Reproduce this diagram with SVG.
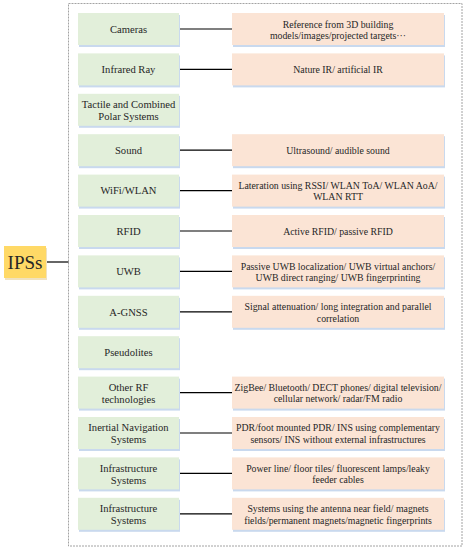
<svg xmlns="http://www.w3.org/2000/svg" width="467" height="550" viewBox="0 0 467 550">
<style>
.g{fill:#E2EFDA}
.o{fill:#FBE4D5}
.sh{fill:#C9D9EE}
.tg{font-family:"Liberation Serif",serif;font-size:10.6px;fill:#262626;text-anchor:middle}
.to{font-family:"Liberation Serif",serif;font-size:9.8px;fill:#262626;text-anchor:middle}
.c{stroke:#000;stroke-width:1.2;fill:none}
</style>
<rect x="0" y="0" width="467" height="550" fill="#fff"/>
<rect x="68.5" y="3.5" width="393.5" height="542.5" fill="none" stroke="#8c8c8c" stroke-width="0.8" stroke-dasharray="2,1"/>
<g id="connectors">
<line class="c" x1="46" y1="262" x2="68.5" y2="262"/>
<line class="c" x1="179" y1="29" x2="232" y2="29"/>
<line class="c" x1="179" y1="69.4" x2="232" y2="69.4"/>
<line class="c" x1="179" y1="150.2" x2="232" y2="150.2"/>
<line class="c" x1="179" y1="190.6" x2="232" y2="190.6"/>
<line class="c" x1="179" y1="231" x2="232" y2="231"/>
<line class="c" x1="179" y1="271.4" x2="232" y2="271.4"/>
<line class="c" x1="179" y1="311.8" x2="232" y2="311.8"/>
<line class="c" x1="179" y1="392.6" x2="232" y2="392.6"/>
<line class="c" x1="179" y1="433" x2="232" y2="433"/>
<line class="c" x1="179" y1="473.4" x2="232" y2="473.4"/>
<line class="c" x1="179" y1="513.8" x2="232" y2="513.8"/>
</g>
<g id="ipss">
<rect x="5" y="248" width="42" height="32" fill="#F0E2C0"/>
<rect x="4" y="246" width="42" height="32" fill="#FFD966"/>
<text x="25" y="269" font-family="Liberation Serif,serif" font-size="19" fill="#262626" text-anchor="middle">IPSs</text>
</g>
<g id="cameras"><rect class="sh" x="79" y="15" width="101" height="32"/><rect class="g" x="78" y="13" width="101" height="32"/><text class="tg" x="128.5" y="32.8">Cameras</text></g>
<g id="cameras-d"><rect class="sh" x="233" y="15" width="212" height="32"/><rect class="o" x="232" y="13" width="212" height="32"/><text class="to" x="338" y="27.5">Reference from 3D building</text><text class="to" x="338" y="39">models/images/projected targets···</text></g>
<g id="infrared"><rect class="sh" x="79" y="55.4" width="101" height="32"/><rect class="g" x="78" y="53.4" width="101" height="32"/><text class="tg" x="128.5" y="73.2">Infrared Ray</text></g>
<g id="infrared-d"><rect class="sh" x="233" y="55.4" width="212" height="32"/><rect class="o" x="232" y="53.4" width="212" height="32"/><text class="to" x="338" y="73">Nature IR/ artificial IR</text></g>
<g id="tactile"><rect class="sh" x="79" y="95.8" width="101" height="32"/><rect class="g" x="78" y="93.8" width="101" height="32"/><text class="tg" x="128.5" y="108">Tactile and Combined</text><text class="tg" x="128.5" y="120">Polar Systems</text></g>
<g id="sound"><rect class="sh" x="79" y="136.2" width="101" height="32"/><rect class="g" x="78" y="134.2" width="101" height="32"/><text class="tg" x="128.5" y="154">Sound</text></g>
<g id="sound-d"><rect class="sh" x="233" y="136.2" width="212" height="32"/><rect class="o" x="232" y="134.2" width="212" height="32"/><text class="to" x="338" y="153.8">Ultrasound/ audible sound</text></g>
<g id="wifi"><rect class="sh" x="79" y="176.6" width="101" height="32"/><rect class="g" x="78" y="174.6" width="101" height="32"/><text class="tg" x="128.5" y="194.4">WiFi/WLAN</text></g>
<g id="wifi-d"><rect class="sh" x="233" y="176.6" width="212" height="32"/><rect class="o" x="232" y="174.6" width="212" height="32"/><text class="to" x="338" y="188.8">Lateration using RSSI/ WLAN ToA/ WLAN AoA/</text><text class="to" x="338" y="200.3">WLAN RTT</text></g>
<g id="rfid"><rect class="sh" x="79" y="217" width="101" height="32"/><rect class="g" x="78" y="215" width="101" height="32"/><text class="tg" x="128.5" y="234.8">RFID</text></g>
<g id="rfid-d"><rect class="sh" x="233" y="217" width="212" height="32"/><rect class="o" x="232" y="215" width="212" height="32"/><text class="to" x="338" y="234.6">Active RFID/ passive RFID</text></g>
<g id="uwb"><rect class="sh" x="79" y="257.4" width="101" height="32"/><rect class="g" x="78" y="255.4" width="101" height="32"/><text class="tg" x="128.5" y="275.2">UWB</text></g>
<g id="uwb-d"><rect class="sh" x="233" y="257.4" width="212" height="32"/><rect class="o" x="232" y="255.4" width="212" height="32"/><text class="to" x="338" y="269.6">Passive UWB localization/ UWB virtual anchors/</text><text class="to" x="338" y="281.1">UWB direct ranging/ UWB fingerprinting</text></g>
<g id="agnss"><rect class="sh" x="79" y="297.8" width="101" height="32"/><rect class="g" x="78" y="295.8" width="101" height="32"/><text class="tg" x="128.5" y="315.6">A-GNSS</text></g>
<g id="agnss-d"><rect class="sh" x="233" y="297.8" width="212" height="32"/><rect class="o" x="232" y="295.8" width="212" height="32"/><text class="to" x="338" y="310">Signal attenuation/ long integration and parallel</text><text class="to" x="338" y="321.5">correlation</text></g>
<g id="pseudolites"><rect class="sh" x="79" y="338.2" width="101" height="32"/><rect class="g" x="78" y="336.2" width="101" height="32"/><text class="tg" x="128.5" y="356">Pseudolites</text></g>
<g id="otherrf"><rect class="sh" x="79" y="378.6" width="101" height="32"/><rect class="g" x="78" y="376.6" width="101" height="32"/><text class="tg" x="128.5" y="390.8">Other RF</text><text class="tg" x="128.5" y="402.8">technologies</text></g>
<g id="otherrf-d"><rect class="sh" x="233" y="378.6" width="212" height="32"/><rect class="o" x="232" y="376.6" width="212" height="32"/><text class="to" x="338" y="390.8">ZigBee/ Bluetooth/ DECT phones/ digital television/</text><text class="to" x="338" y="402.3">cellular network/ radar/FM radio</text></g>
<g id="ins"><rect class="sh" x="79" y="419" width="101" height="32"/><rect class="g" x="78" y="417" width="101" height="32"/><text class="tg" x="128.5" y="431.2">Inertial Navigation</text><text class="tg" x="128.5" y="443.2">Systems</text></g>
<g id="ins-d"><rect class="sh" x="233" y="419" width="212" height="32"/><rect class="o" x="232" y="417" width="212" height="32"/><text class="to" x="338" y="431.2">PDR/foot mounted PDR/ INS using complementary</text><text class="to" x="338" y="442.7">sensors/ INS without external infrastructures</text></g>
<g id="infra1"><rect class="sh" x="79" y="459.4" width="101" height="32"/><rect class="g" x="78" y="457.4" width="101" height="32"/><text class="tg" x="128.5" y="471.6">Infrastructure</text><text class="tg" x="128.5" y="483.6">Systems</text></g>
<g id="infra1-d"><rect class="sh" x="233" y="459.4" width="212" height="32"/><rect class="o" x="232" y="457.4" width="212" height="32"/><text class="to" x="338" y="471.6">Power line/ floor tiles/ fluorescent lamps/leaky</text><text class="to" x="338" y="483.1">feeder cables</text></g>
<g id="infra2"><rect class="sh" x="79" y="499.8" width="101" height="32"/><rect class="g" x="78" y="497.8" width="101" height="32"/><text class="tg" x="128.5" y="512">Infrastructure</text><text class="tg" x="128.5" y="524">Systems</text></g>
<g id="infra2-d"><rect class="sh" x="233" y="499.8" width="212" height="32"/><rect class="o" x="232" y="497.8" width="212" height="32"/><text class="to" x="338" y="512">Systems using the antenna near field/ magnets</text><text class="to" x="338" y="523.5">fields/permanent magnets/magnetic fingerprints</text></g>
</svg>
